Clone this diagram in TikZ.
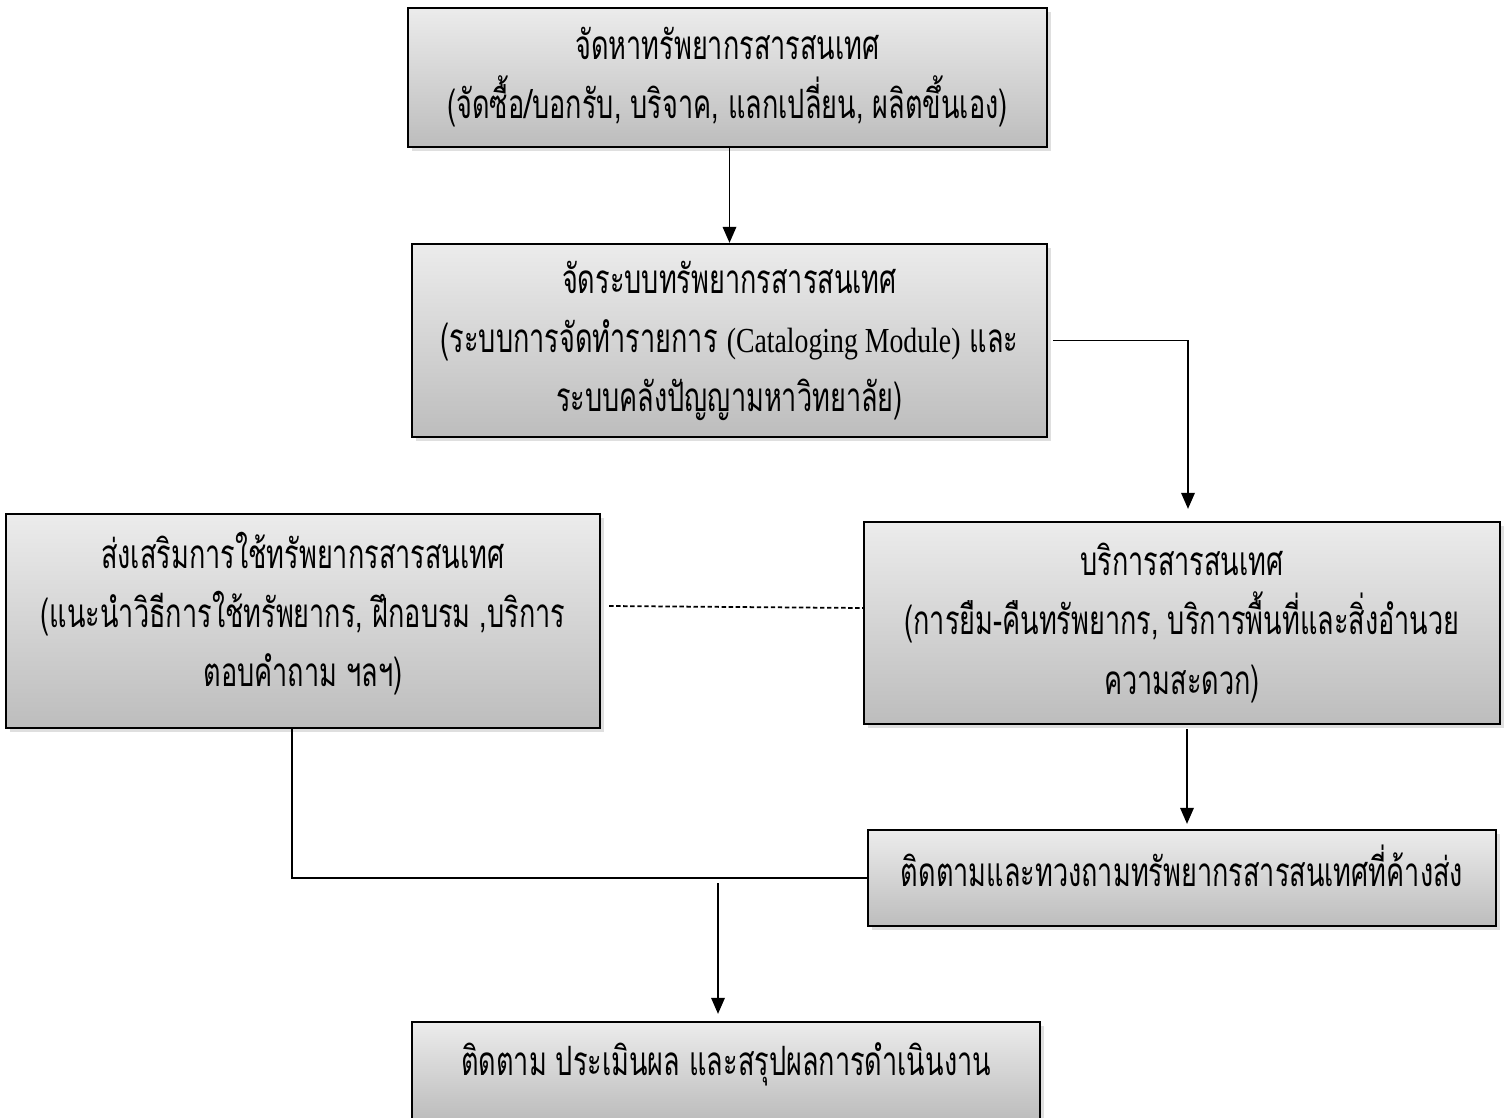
\documentclass[tikz,border=0pt]{standalone}
\usepackage{fontspec}
\usepackage{tikz}
\usetikzlibrary{calc}
\usetikzlibrary{arrows.meta}
\usetikzlibrary{shadows}
\newfontfamily\thaifont[Script=Thai,FakeStretch=0.67]{Loma}
\newfontfamily\latinfont[FakeStretch=0.79]{Liberation Serif}
\tikzset{%
  myedge/.style={->, line width=1pt, >={Triangle[length=0.32cm,width=0.27cm]}},
  mylink/.style={line width=1pt},
  mybox/.style={rectangle, draw=black, line width=1.3pt, top color=gray!15, bottom color=gray!52,
    drop shadow={opacity=0.25, shadow xshift=2pt, shadow yshift=-2.5pt},
    align=center, inner sep=0pt, font=\thaifont\fontsize{23}{33.6}\selectfont},
  raised/.style={text depth=#1}
}
\begin{document}
\begin{tikzpicture}
  \useasboundingbox (0,0) rectangle (30.14,-22.34);
  \node[mybox, minimum width=12.78cm, minimum height=2.78cm] (acq) at (14.55,-1.55)
    {จัดหาทรัพยากรสารสนเทศ\\(จัดซื้อ/บอกรับ, บริจาค, แลกเปลี่ยน, ผลิตขึ้นเอง)};
  \node[mybox, minimum width=12.70cm, minimum height=3.86cm] (sys) at (14.59,-6.81)
    {จัดระบบทรัพยากรสารสนเทศ\\(ระบบการจัดทำรายการ {\latinfont\fontsize{20}{33.6}\selectfont(Cataloging Module)} และ\\ระบบคลังปัญญามหาวิทยาลัย)};
  \node[mybox, raised=0.45cm, minimum width=11.88cm, minimum height=4.28cm] (promo) at (6.06,-12.42)
    {ส่งเสริมการใช้ทรัพยากรสารสนเทศ\\(แนะนำวิธีการใช้ทรัพยากร, ฝึกอบรม ,บริการ\\ตอบคำถาม ฯลฯ)};
  \node[mybox, minimum width=12.72cm, minimum height=4.04cm] (svc) at (23.64,-12.46)
    {บริการสารสนเทศ\\(การยืม-คืนทรัพยากร, บริการพื้นที่และสิ่งอำนวย\\ความสะดวก)};
  \node[mybox, raised=0.5cm, minimum width=12.56cm, minimum height=1.92cm] (track) at (23.64,-17.56)
    {ติดตามและทวงถามทรัพยากรสารสนเทศที่ค้างส่ง};
  \node[mybox, raised=0.45cm, minimum width=12.56cm, minimum height=1.94cm] (report) at (14.52,-21.41)
    {ติดตาม ประเมินผล และสรุปผลการดำเนินงาน};
  \coordinate (join) at ($(report.north |- track.west)+(-0.16,-0.1)$);
  \draw [myedge] (sys.north |- acq.south) -- (sys.north);
  \draw [myedge] ([xshift=0.1cm]sys.east) -| ([xshift=0.12cm,yshift=0.24cm]svc.north);
  \draw [mylink, dash pattern=on 2.5pt off 1.5pt] ([xshift=0.16cm,yshift=0.3cm]promo.east) -- ([yshift=0.3cm]svc.west);
  \draw [myedge] ([xshift=0.1cm,yshift=-0.08cm]svc.south) -- ([xshift=0.1cm,yshift=0.1cm]track.north);
  \draw [mylink] ([xshift=-0.22cm]promo.south) |- (track.west);
  \draw [myedge] (join) -- ([xshift=-0.16cm,yshift=0.14cm]report.north);
\end{tikzpicture}
\end{document}
